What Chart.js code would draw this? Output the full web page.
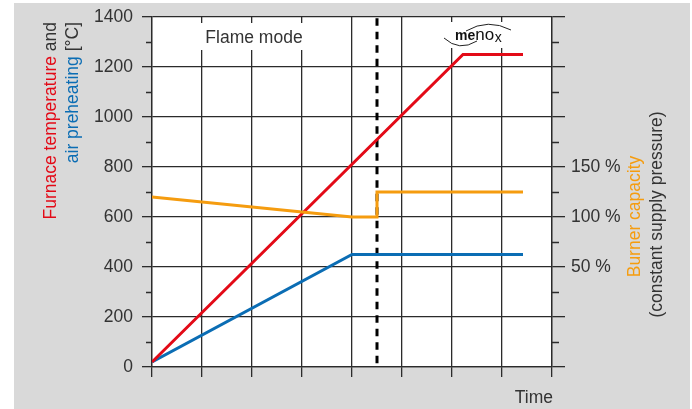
<!DOCTYPE html>
<html>
<head>
<meta charset="utf-8">
<script src="https://cdn.jsdelivr.net/npm/chart.js@4/dist/chart.umd.min.js"></script>
<style>
  html, body { margin: 0; padding: 0; background: #ffffff; }
  #wrap { width: 692px; height: 409px; position: relative; }
</style>
</head>
<body>
<div id="wrap"><canvas id="c" width="692" height="409"></canvas></div>
<script>
// ---- Data ----
const timeFurnace = [0, 6.22, 7.42];
const furnaceTemperature = [20, 1250, 1250];

const timeAir = [0, 4, 7.42];
const airPreheating = [20, 450, 450];

const timeBurner = [0, 4, 4.5, 4.5, 7.42];
const burnerCapacity = [120, 100, 100, 125, 125]; // percent

const modeSwitchTime = [4.5, 4.5];
const modeSwitchSpan = [1395, 0];

const tempTicks = [0, 200, 400, 600, 800, 1000, 1200, 1400];
const capacityLabels = [50, 100, 150];

const FONT = '"Liberation Sans", Arial, Helvetica, sans-serif';
const TXT = '#333333';
const GRID = '#2b2b2b';
const RED = '#e30a17';
const BLUE = '#0b6db4';
const ORANGE = '#f59c0f';

const toXY = (xs, ys) => xs.map((x, i) => ({ x: x, y: ys[i] }));

const decor = {
  id: 'decor',
  beforeDraw(chart) {
    const ctx = chart.ctx;
    const a = chart.chartArea;
    ctx.save();
    ctx.fillStyle = '#ffffff';
    ctx.fillRect(0, 0, chart.width, chart.height);
    ctx.fillStyle = '#d9d9d9';
    ctx.fillRect(14, 3, 676, 406);
    ctx.fillStyle = '#ffffff';
    ctx.fillRect(a.left, a.top, a.right - a.left, a.bottom - a.top);
    ctx.restore();
  },
  beforeDatasetsDraw(chart) {
    const ctx = chart.ctx;
    const a = chart.chartArea;
    const y = chart.scales.y;
    ctx.save();
    ctx.strokeStyle = GRID;
    ctx.lineWidth = 1.3;
    for (let v = 100; v < 1400; v += 200) {
      const py = Math.round(y.getPixelForValue(v)) + 0.5;
      ctx.beginPath();
      ctx.moveTo(a.left - 6, py); ctx.lineTo(a.left, py);
      ctx.moveTo(a.right, py); ctx.lineTo(a.right + 7, py);
      ctx.stroke();
    }
    ctx.fillStyle = '#ffffff';
    ctx.fillRect(196, 23, 120, 27);
    ctx.fillRect(440, 22, 76, 26);
    ctx.fillStyle = TXT;
    ctx.font = '17.5px ' + FONT;
    ctx.textAlign = 'center';
    ctx.textBaseline = 'alphabetic';
    ctx.fillText('Flame mode', 254, 43);
    ctx.textAlign = 'left';
    ctx.fillStyle = '#111111';
    ctx.font = 'bold 14px ' + FONT;
    ctx.fillText('me', 455, 40);
    let w = ctx.measureText('me').width;
    ctx.font = '17px ' + FONT;
    ctx.fillText('no', 455 + w, 40);
    let w2 = ctx.measureText('no').width;
    ctx.font = '14px ' + FONT;
    ctx.fillText('x', 455 + w + w2 + 0.5, 42);
    ctx.strokeStyle = '#222222';
    ctx.lineWidth = 1;
    ctx.beginPath();
    ctx.moveTo(444, 38);
    ctx.quadraticCurveTo(459, 52, 477, 41);
    ctx.stroke();
    ctx.beginPath();
    ctx.moveTo(466, 31);
    ctx.quadraticCurveTo(488, 18, 511, 30);
    ctx.stroke();
    ctx.restore();
  },
  afterDraw(chart) {
    const ctx = chart.ctx;
    ctx.save();
    ctx.font = '17.5px ' + FONT;
    ctx.textBaseline = 'middle';
    const drawParts = (parts, cx, endY) => {
      ctx.save();
      ctx.translate(cx, endY);
      ctx.rotate(-Math.PI / 2);
      let total = 0;
      parts.forEach(p => { total += ctx.measureText(p[0]).width; });
      let x = -total;
      ctx.textAlign = 'left';
      parts.forEach(p => {
        ctx.fillStyle = p[1];
        ctx.fillText(p[0], x, 0);
        x += ctx.measureText(p[0]).width;
      });
      ctx.restore();
    };
    drawParts([['Furnace temperature', RED], [' and', TXT]], 51, 22);
    drawParts([['air preheating', BLUE], [' [°C]', TXT]], 73, 22);
    const drawCentered = (text, color, cx, cy) => {
      ctx.save();
      ctx.translate(cx, cy);
      ctx.rotate(-Math.PI / 2);
      ctx.textAlign = 'center';
      ctx.fillStyle = color;
      ctx.fillText(text, 0, 0);
      ctx.restore();
    };
    drawCentered('Burner capacity', ORANGE, 635, 216.5);
    drawCentered('(constant supply pressure)', TXT, 657, 214.5);
    ctx.textBaseline = 'alphabetic';
    ctx.textAlign = 'right';
    ctx.fillStyle = TXT;
    ctx.fillText('Time', 553, 403);
    ctx.restore();
  }
};

const noPad = s => { s.paddingTop = 0; s.paddingBottom = 0; };

new Chart(document.getElementById('c'), {
  type: 'line',
  data: {
    datasets: [
      { label: 'Mode switch', data: toXY(modeSwitchTime, modeSwitchSpan), borderColor: '#000000', borderWidth: 3, borderDash: [7.5, 6], pointRadius: 0, yAxisID: 'y', order: 4 },
      { label: 'Air preheating', data: toXY(timeAir, airPreheating), borderColor: BLUE, borderWidth: 3, pointRadius: 0, yAxisID: 'y', order: 3 },
      { label: 'Furnace temperature', data: toXY(timeFurnace, furnaceTemperature), borderColor: RED, borderWidth: 3, pointRadius: 0, yAxisID: 'y', order: 2 },
      { label: 'Burner capacity', data: toXY(timeBurner, burnerCapacity), borderColor: ORANGE, borderWidth: 3, pointRadius: 0, yAxisID: 'y2', order: 1 }
    ]
  },
  options: {
    responsive: false,
    animation: false,
    layout: { padding: { top: 17, left: 0, right: 0, bottom: 0 } },
    plugins: { legend: { display: false }, tooltip: { enabled: false } },
    elements: { line: { tension: 0, borderJoinStyle: 'miter', borderCapStyle: 'butt' } },
    scales: {
      x: {
        type: 'linear', min: 0, max: 8,
        ticks: { stepSize: 1, callback: () => '', font: { size: 2 }, padding: 0 },
        grid: { color: GRID, lineWidth: 1.3, tickLength: 10, drawTicks: true },
        border: { display: true, color: GRID, width: 1.3 },
        afterFit: s => { s.height = 42; s.paddingLeft = 0; s.paddingRight = 0; }
      },
      y: {
        type: 'linear', position: 'left', min: 0, max: 1400,
        afterBuildTicks: s => { s.ticks = tempTicks.map(v => ({ value: v })); },
        ticks: { color: TXT, font: { family: FONT, size: 17.5 }, padding: 9, callback: v => String(v) },
        grid: { color: GRID, lineWidth: 1.3, tickLength: 10 },
        border: { display: true, color: GRID, width: 1.3 },
        afterFit: s => { s.width = 152; noPad(s); }
      },
      y2: {
        type: 'linear', position: 'right', min: -50, max: 300,
        ticks: { stepSize: 50, color: TXT, font: { family: FONT, size: 17.5 }, padding: 6,
          callback: v => capacityLabels.includes(v) ? v + ' %' : '' },
        grid: { drawOnChartArea: false, color: GRID, lineWidth: 1.3, tickLength: 13 },
        border: { display: true, color: GRID, width: 1.3 },
        afterFit: s => { s.width = 140; noPad(s); }
      }
    }
  },
  plugins: [decor]
});
</script>
</body>
</html>
